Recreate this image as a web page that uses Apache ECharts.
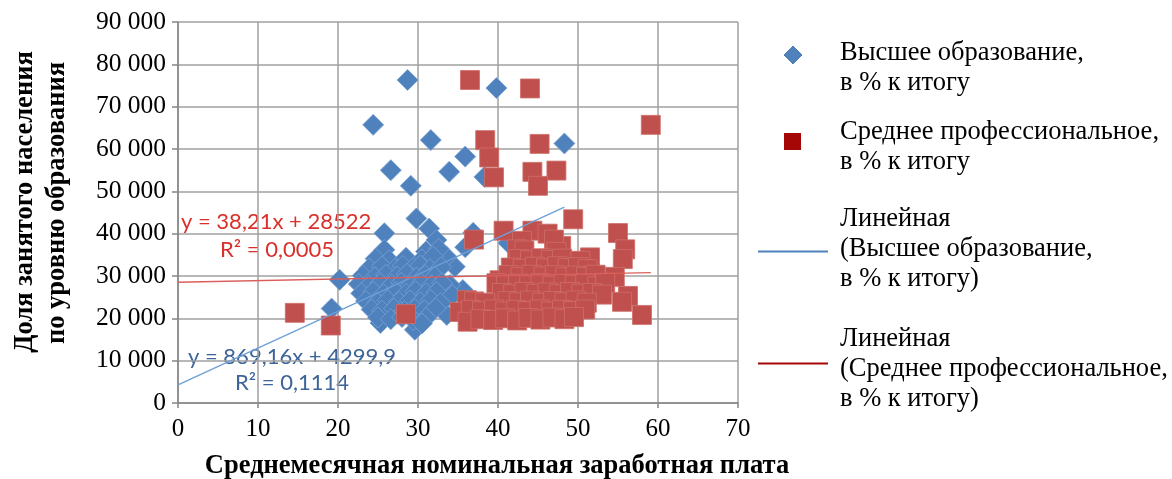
<!DOCTYPE html>
<html>
<head>
<meta charset="utf-8">
<script src="https://cdn.jsdelivr.net/npm/echarts@6/dist/echarts.min.js"></script>
<style>
  html, body { margin: 0; padding: 0; background: #fff; }
  #chart { width: 1172px; height: 479px; }
</style>
</head>
<body>
<div id="chart"></div>
<script>
// Axis ranges and tick steps
const xTicks = [0, 10, 20, 30, 40, 50, 60, 70];
const yTicks = [0, 10000, 20000, 30000, 40000, 50000, 60000, 70000, 80000, 90000];

// Series names
const nameHigher = 'Высшее образование,\nв % к итогу';
const nameSecondary = 'Среднее профессиональное,\nв % к итогу';

// Высшее образование: [зарплата, доля]
const higherEdu = [
  [28.7, 76300], [24.4, 65700], [39.8, 74400], [31.6, 62100], [48.3, 61300],
  [35.9, 58200], [26.6, 55000], [33.9, 54600], [38.3, 53400], [29.1, 51300],
  [29.8, 43600], [25.8, 40100], [31.4, 41200], [32.3, 38500], [36.9, 40200],
  [35.9, 36800], [41.3, 37800], [34.6, 32200], [33.6, 34500], [20.2, 29100],
  [19.2, 22300], [35.6, 26700], [34.0, 27900], [33.1, 23900], [33.6, 20800],
  [29.6, 17300], [25.3, 18900],
  [25.8, 36200], [31.0, 35800], [32.6, 36400],
  [24.7, 34100], [26.4, 33700], [28.5, 34300], [30.5, 33900], [31.9, 34600],
  [23.9, 31800], [25.5, 32300], [27.1, 31700], [28.1, 32400], [29.4, 31900],
  [30.3, 32500], [31.5, 31600], [32.9, 32100],
  [23.1, 30100], [24.6, 29700], [26.0, 30300], [27.4, 29900], [28.6, 30500],
  [29.8, 29600], [30.9, 30200], [32.1, 29800],
  [22.6, 28100], [23.9, 27700], [25.3, 28300], [26.7, 27900], [27.9, 28400],
  [29.0, 27600], [30.4, 28200], [31.7, 27800], [33.0, 28300],
  [22.9, 25900], [24.4, 26300], [25.7, 25700], [27.2, 26200], [28.5, 25800],
  [29.7, 26400], [31.0, 25900], [32.3, 26200], [34.3, 25500],
  [23.5, 24100], [24.9, 23700], [26.2, 24300], [27.6, 23900], [29.0, 24200],
  [30.3, 23800], [31.6, 24300], [32.8, 23600],
  [24.2, 22100], [25.5, 21800], [27.0, 22300], [28.3, 21700], [29.6, 22200],
  [30.8, 21900], [32.2, 22400],
  [25.0, 20200], [26.6, 19800], [28.0, 20300], [29.4, 19600], [31.0, 20100],
  [30.5, 18800]
];

// Среднее профессиональное: [зарплата, доля]
const secondaryEdu = [
  [36.5, 76300], [44.0, 74300], [38.4, 62100], [45.2, 61200], [59.1, 65700],
  [38.9, 58000], [39.5, 53300], [44.3, 54600], [47.3, 54900], [45.0, 51300],
  [49.4, 43400], [37.0, 38600], [40.7, 40700], [44.3, 40700], [55.0, 40150],
  [55.9, 36300], [55.6, 34000], [54.6, 29800], [56.25, 25300], [58.0, 20800],
  [55.5, 23900], [51.5, 34400], [47.9, 37100], [14.6, 21300], [19.1, 18300],
  [28.5, 21000],
  [46.2, 40000], [43.0, 38300], [47.0, 38600], [42.4, 36300], [43.3, 36000], [47.3, 35700],
  [42.6, 34000], [44.0, 33700], [45.4, 34200], [46.6, 33800], [48.0, 34100], [50.3, 33600],
  [41.6, 32000], [43.1, 31700], [44.6, 32200], [46.0, 31800], [47.4, 32300], [48.7, 31900],
  [50.0, 32100], [51.2, 31600],
  [40.2, 29000], [41.3, 30200], [42.8, 29800], [44.2, 30300], [45.7, 29900], [47.1, 30200],
  [48.4, 29700], [49.7, 30100], [51.0, 29800], [52.2, 30300],
  [39.8, 28300], [41.0, 27900], [42.5, 28200], [43.9, 27800], [45.3, 28300], [46.8, 27700],
  [48.2, 28100], [49.6, 27900], [50.9, 28200], [52.4, 27600], [53.4, 28400],
  [40.5, 26000], [41.9, 25700], [43.3, 26200], [44.8, 25800], [46.2, 26100], [47.6, 25700],
  [49.0, 26200], [50.4, 25800], [51.8, 26000], [53.0, 25600],
  [36.1, 24300], [37.0, 24000], [38.4, 23700], [41.2, 24100], [42.6, 23800], [44.0, 24200],
  [45.5, 23700], [46.9, 24100], [48.3, 23800], [49.7, 24200], [51.1, 23700],
  [35.2, 21500], [36.6, 22000], [38.0, 21700], [39.5, 22100], [40.9, 21600], [42.3, 22000],
  [43.7, 21700], [45.2, 22100], [46.6, 21600], [48.0, 22000], [49.4, 21700], [50.9, 22100],
  [36.2, 19200], [37.8, 19800], [39.4, 19600], [40.9, 20000], [42.4, 19500], [43.8, 20100],
  [45.3, 19700], [46.8, 20200], [48.3, 19800], [49.5, 20300]
];

// Linear trend coefficients: y = slope * x + intercept
const trendHigher = { slope: 869.16, intercept: 4299.9, r2: '0,1114', eq: 'y = 869,16x + 4299,9' };
const trendSecondary = { slope: 38.21, intercept: 28522, r2: '0,0005', eq: 'y = 38,21x + 28522' };

const xTitle = 'Среднемесячная номинальная заработная плата';
const yTitleLines = ['Доля занятого населения', 'по уровню образования'];

function trendPoints(tr, data) {
  const xMax = Math.max.apply(null, data.map(d => d[0]));
  return [[0, tr.intercept], [xMax, tr.slope * xMax + tr.intercept]];
}

function fmtThousands(v) {
  return String(v).replace(/\B(?=(\d{3})+(?!\d))/g, ' ');
}

const SERIF = '"Liberation Serif", "Times New Roman", serif';
const SANS = 'Lato, "Open Sans", sans-serif';
const BLUE = '#4F81BD';
const RED = '#C0504D';
const DARK_RED = '#A50606';

const chart = echarts.init(document.getElementById('chart'), null, { renderer: 'canvas' });

function legendText(x, y, text) {
  return { type: 'text', x: x, y: y, style: { text: text, font: '26.5px ' + SERIF, fill: '#000', textAlign: 'left', textVerticalAlign: 'middle' } };
}

const graphics = [
  // legend: markers
  { type: 'polygon', shape: { points: [[793, 46], [802, 55], [793, 64], [784, 55]] }, style: { fill: BLUE, stroke: '#3d6da6', lineWidth: 0.8 } },
  { type: 'rect', shape: { x: 784, y: 133, width: 17, height: 17 }, style: { fill: DARK_RED } },
  { type: 'line', shape: { x1: 758, y1: 251.5, x2: 828, y2: 251.5 }, style: { stroke: BLUE, lineWidth: 2 } },
  { type: 'line', shape: { x1: 758, y1: 363.5, x2: 828, y2: 363.5 }, style: { stroke: DARK_RED, lineWidth: 2 } },
  legendText(840, 53, 'Высшее образование,'),
  legendText(840, 83, 'в % к итогу'),
  legendText(840, 132, 'Среднее профессиональное,'),
  legendText(840, 162, 'в % к итогу'),
  legendText(840, 219.5, 'Линейная'),
  legendText(840, 249.5, '(Высшее образование,'),
  legendText(840, 279.5, 'в % к итогу)'),
  legendText(840, 339.5, 'Линейная'),
  legendText(840, 369.5, '(Среднее профессиональное,'),
  legendText(840, 399.5, 'в % к итогу)'),
  // trend equations
  { type: 'text', x: 181, y: 222, style: { text: trendSecondary.eq, font: '22px ' + SANS, fill: '#D9302C', textVerticalAlign: 'middle' } },
  { type: 'text', x: 220, y: 250, style: { text: 'R² = ' + trendSecondary.r2, font: '22px ' + SANS, fill: '#D9302C', textVerticalAlign: 'middle' } },
  { type: 'text', x: 188, y: 357, style: { text: trendHigher.eq, font: '22px ' + SANS, fill: '#3C6498', textVerticalAlign: 'middle' } },
  { type: 'text', x: 235, y: 383, style: { text: 'R² = ' + trendHigher.r2, font: '22px ' + SANS, fill: '#3C6498', textVerticalAlign: 'middle' } },
  // axis titles
  { type: 'text', x: 497, y: 466, style: { text: xTitle, font: 'bold 26.5px ' + SERIF, fill: '#000', textAlign: 'center', textVerticalAlign: 'middle' } },
  { type: 'text', x: 25, y: 202, rotation: Math.PI / 2, style: { text: yTitleLines[0], font: 'bold 26.5px ' + SERIF, fill: '#000', textAlign: 'center', textVerticalAlign: 'middle' } },
  { type: 'text', x: 57, y: 203, rotation: Math.PI / 2, style: { text: yTitleLines[1], font: 'bold 26.5px ' + SERIF, fill: '#000', textAlign: 'center', textVerticalAlign: 'middle' } }
];

const option = {
  backgroundColor: '#fff',
  animation: false,
  grid: { left: 178, top: 22, width: 560, height: 381, containLabel: false },
  xAxis: {
    type: 'value',
    min: xTicks[0], max: xTicks[xTicks.length - 1], interval: xTicks[1] - xTicks[0],
    axisLine: { show: true, onZero: false, lineStyle: { color: '#868686', width: 1.5 } },
    axisTick: { show: true, length: 5, lineStyle: { color: '#868686', width: 1.5 } },
    axisLabel: { margin: 14, color: '#000', fontFamily: SERIF, fontSize: 25 },
    splitLine: { show: true, lineStyle: { color: '#a0a0a0', width: 1.5 } }
  },
  yAxis: {
    type: 'value',
    min: yTicks[0], max: yTicks[yTicks.length - 1], interval: yTicks[1] - yTicks[0],
    axisLine: { show: true, onZero: false, lineStyle: { color: '#868686', width: 1.5 } },
    axisTick: { show: true, length: 6, lineStyle: { color: '#868686', width: 1.5 } },
    axisLabel: { margin: 12, color: '#000', fontFamily: SERIF, fontSize: 25.5, formatter: fmtThousands },
    splitLine: { show: true, lineStyle: { color: '#a0a0a0', width: 1.5 } }
  },
  series: [
    {
      name: nameHigher, type: 'scatter', symbol: 'diamond', symbolSize: [21, 21],
      data: higherEdu, z: 2,
      itemStyle: { color: BLUE, borderColor: '#7aa2d3', borderWidth: 0.8, opacity: 1 }
    },
    {
      name: nameSecondary, type: 'scatter', symbol: 'rect', symbolSize: 19,
      data: secondaryEdu, z: 3,
      itemStyle: { color: RED, borderColor: '#cf6e6b', borderWidth: 0.8, opacity: 1 }
    },
    {
      name: 'Линейная (Высшее образование, в % к итогу)', type: 'line', z: 4,
      data: trendPoints(trendHigher, higherEdu), showSymbol: false, symbol: 'none',
      lineStyle: { color: '#6E9FD6', width: 1.3 }, silent: true
    },
    {
      name: 'Линейная (Среднее профессиональное, в % к итогу)', type: 'line', z: 5,
      data: trendPoints(trendSecondary, secondaryEdu), showSymbol: false, symbol: 'none',
      lineStyle: { color: '#DA5F5B', width: 1.3 }, silent: true
    }
  ],
  graphic: graphics
};

chart.setOption(option);
</script>
</body>
</html>
